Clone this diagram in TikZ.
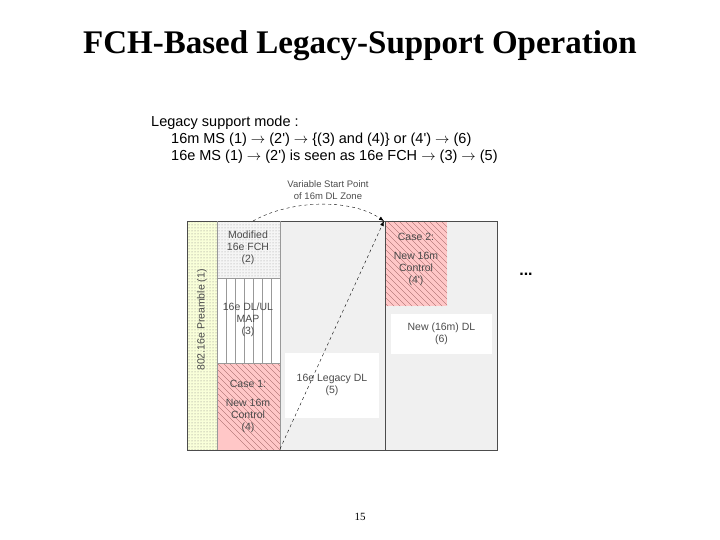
\documentclass[tikz,border=0pt]{standalone}
\usepackage{fontspec}
\setmainfont{Liberation Serif}
\newfontfamily\arial{Liberation Sans}
\usetikzlibrary{patterns,arrows.meta}
\begin{document}
\begin{tikzpicture}[x=1pt,y=-1pt,
  lbl/.style={font=\arial\fontsize{10.5}{12}\selectfont,text=black!70,align=center}]
\useasboundingbox (0,0) rectangle (720,540);
\node (title) at (360,46) {\fontsize{33}{38}\selectfont\bfseries FCH-Based Legacy-Support Operation};
\node (pg) at (360,517) {\fontsize{11}{12}\selectfont 15};
\node[anchor=north west,font=\arial\fontsize{14.5}{17}\selectfont,align=left,inner sep=0] (hdr) at (151,116)
 {Legacy support mode :\\
 \hspace{20pt}16m MS (1) $\rightarrow$ (2') $\rightarrow$ \{(3) and (4)\} or (4') $\rightarrow$ (6)\\
 \hspace{20pt}16e MS (1) $\rightarrow$ (2') is seen as 16e FCH $\rightarrow$ (3) $\rightarrow$ (5)};
% frame
\fill[black!6] (187,221) rectangle (497,450);
\fill[green!15!yellow!15] (187,221) rectangle (217,450);
\fill[pattern=dots,pattern color=black!50] (187,221) rectangle (217,450);
\fill[black!4] (217,221) rectangle (280,278);
\fill[pattern=dots,pattern color=black!40] (217,221) rectangle (280,278);
\fill[white] (217,278) rectangle (280,363);
\foreach \x in {226,235,244,253,262,271} \draw[black!40,very thin] (\x,278) -- (\x,363);
\fill[red!22] (217,363) rectangle (280,450);
\fill[red!22] (385,221) rectangle (447,306);
\begin{scope}
\clip (217,363) rectangle (280,450) (385,221) rectangle (447,306);
\foreach \k in {0,6,...,480} \draw[red!35!black!70,very thin] (0+\k,200) -- (\k+260,460);
\end{scope}
\node[fill=white,minimum width=94pt,minimum height=65pt] (leg) at (332,385) {};
\node[fill=white,minimum width=101pt,minimum height=40pt] (new) at (441.5,334) {};
\draw[black!70] (187,221) rectangle (497,450);
\draw[black!70] (385,221) -- (385,450);
\draw[black!40,very thin] (217,221) -- (217,450) (217,278)--(280,278) (217,363)--(280,363) (280,221)--(280,450);
% labels
\node[lbl,rotate=90] (pre) at (202,320) {802.16e Preamble (1)};
\node[lbl] (fch) at (248,248) {Modified\\16e FCH\\(2)};
\node[lbl] (map) at (248,320) {16e DL/UL\\MAP\\(3)};
\node[lbl] (c1) at (248,406) {Case 1:\\[7pt]New 16m\\Control\\(4)};
\node[lbl] at (leg) {16e Legacy DL\\(5)};
\node[lbl] at (new) {New (16m) DL\\(6)};
\node[lbl] (c2) at (416,259) {Case 2:\\[7pt]New 16m\\Control\\(4')};
\node[font=\arial\bfseries\fontsize{16}{16}\selectfont] (dots) at (526,274) {...};
\node[lbl,font=\arial\fontsize{9.5}{11.5}\selectfont] (var) at (328,190) {Variable Start Point\\of 16m DL Zone};
\coordinate (a0) at (253,221);
\coordinate (a1) at (384,221);
\coordinate (b0) at (280,449);
\draw[dashed,-{Latex[length=5pt]}] (a0) .. controls (290,200) and (350,198) .. (a1);
\draw[dashed,-{Latex[length=5pt]}] (b0) -- (a1);
\end{tikzpicture}
\end{document}
